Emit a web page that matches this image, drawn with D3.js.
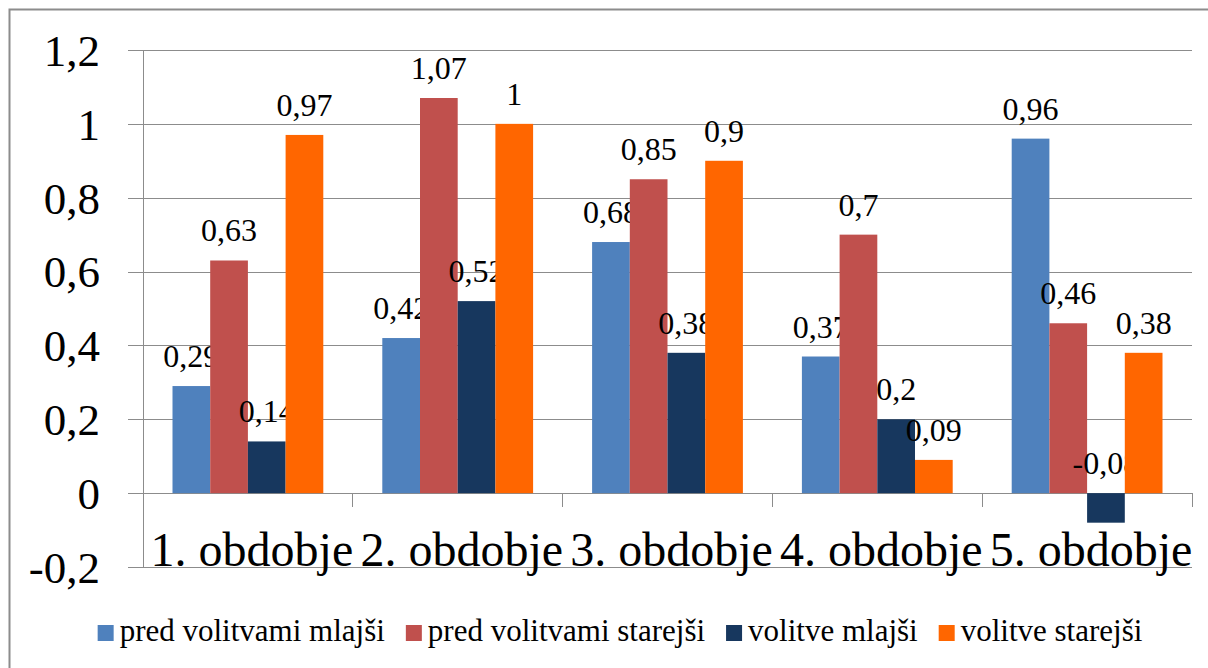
<!DOCTYPE html>
<html>
<head>
<meta charset="utf-8">
<script src="https://cdn.jsdelivr.net/npm/d3@7"></script>
<style>
  body { margin: 0; background: #fff; }
  svg text { font-family: "Liberation Serif", "DejaVu Serif", serif !important; fill: #000; }
</style>
</head>
<body>
<div id="chart"></div>
<script>
const categories = ["1. obdobje", "2. obdobje", "3. obdobje", "4. obdobje", "5. obdobje"];
const seriesNames = ["pred volitvami mlajši", "pred volitvami starejši", "volitve mlajši", "volitve starejši"];
const predMlajsi = [0.29, 0.42, 0.68, 0.37, 0.96];
const predStarejsi = [0.63, 1.07, 0.85, 0.7, 0.46];
const volitveMlajsi = [0.14, 0.52, 0.38, 0.2, -0.08];
const volitveStarejsi = [0.97, 1, 0.9, 0.09, 0.38];
const yTicks = [-0.2, 0, 0.2, 0.4, 0.6, 0.8, 1, 1.2];
const colors = ["#4F81BD", "#C0504D", "#17375E", "#FF6600"];

const seriesValues = [predMlajsi, predStarejsi, volitveMlajsi, volitveStarejsi];

const width = 1208, height = 668;
const plot = { left: 143, right: 1192, top: 50, bottom: 567 };
const serif = '"Liberation Serif", "Times New Roman", serif';

const locale = d3.formatLocale({ decimal: ",", thousands: ".", grouping: [3], currency: ["", ""], minus: "-" });
const fmt = locale.format("~g");

const svg = d3.select("#chart").append("svg")
  .attr("width", width)
  .attr("height", height)
  .style("font-family", serif);

// outer chart border (only top/left fall inside the picture)
svg.append("rect")
  .attr("x", 9.5).attr("y", 9.5)
  .attr("width", 1220).attr("height", 680)
  .attr("fill", "none")
  .attr("stroke", "#8c8c8c")
  .attr("stroke-width", 2);

const x0 = d3.scaleBand().domain(categories).range([plot.left, plot.right]);
const x1 = d3.scaleBand().domain(seriesNames).range([29.5, x0.bandwidth() - 29.5]);
const y = d3.scaleLinear().domain([-0.2, 1.2]).range([plot.bottom, plot.top]);

// gridlines + y labels
const yAxis = svg.append("g")
  .attr("transform", "translate(128,0)")
  .call(d3.axisLeft(y).tickValues(yTicks).tickFormat(fmt)
    .tickSize(-(plot.right - 128)).tickPadding(28))
  .attr("font-family", serif);
yAxis.select(".domain").remove();
yAxis.selectAll(".tick line")
  .attr("stroke", "#8c8c8c")
  .attr("shape-rendering", "crispEdges");
yAxis.selectAll(".tick text")
  .style("font-family", serif)
  .style("font-size", "45px")
  .attr("dy", "0.34em");

// y axis line
svg.append("line")
  .attr("x1", plot.left).attr("x2", plot.left)
  .attr("y1", plot.top).attr("y2", plot.bottom)
  .attr("stroke", "#8c8c8c")
  .attr("shape-rendering", "crispEdges");

// category tick marks on the zero line
const bounds = categories.map((c) => x0(c) + x0.bandwidth());
svg.selectAll(".cat-tick")
  .data(bounds)
  .enter()
  .append("line")
  .attr("class", "cat-tick")
  .attr("x1", (d) => d).attr("x2", (d) => d)
  .attr("y1", y(0)).attr("y2", y(0) + 14)
  .attr("stroke", "#8c8c8c")
  .attr("shape-rendering", "crispEdges");

// bars
const groups = svg.selectAll(".grp")
  .data(categories)
  .enter()
  .append("g")
  .attr("class", "grp")
  .attr("transform", (d) => `translate(${x0(d)},0)`);

const cells = groups.selectAll("g")
  .data((c, i) => seriesNames.map((s, j) => ({ s, j, v: seriesValues[j][i] })))
  .enter()
  .append("g");

cells.append("rect")
  .attr("x", (d) => x1(d.s))
  .attr("width", x1.bandwidth())
  .attr("y", (d) => y(Math.max(0, d.v)))
  .attr("height", (d) => Math.abs(y(d.v) - y(0)))
  .attr("fill", (d) => colors[d.j]);

cells.append("text")
  .attr("x", (d) => x1(d.s) + x1.bandwidth() / 2)
  .attr("y", (d) => y(Math.max(0, d.v)) - 19)
  .attr("text-anchor", "middle")
  .style("font-family", serif)
  .style("font-size", "32px")
  .text((d) => fmt(d.v));

// category labels
svg.selectAll(".cat-label")
  .data(categories)
  .enter()
  .append("text")
  .attr("class", "cat-label")
  .attr("x", (d) => x0(d) + x0.bandwidth() / 2 + 4)
  .attr("y", 566)
  .attr("text-anchor", "middle")
  .style("font-family", serif)
  .style("font-size", "48px")
  .text((d) => d);

// legend
const legend = svg.append("g");
const items = legend.selectAll("g")
  .data(seriesNames)
  .enter()
  .append("g");
items.append("rect")
  .attr("width", 16).attr("height", 16)
  .attr("y", 625)
  .attr("fill", (d, i) => colors[i]);
items.append("text")
  .attr("x", 22)
  .attr("y", 641)
  .style("font-family", serif)
  .style("font-size", "31px")
  .text((d) => d);

let cx = 0;
const offs = [];
items.each(function () {
  offs.push(cx);
  const w = d3.select(this).select("text").node().getComputedTextLength();
  cx += 22 + w + 21;
});
const total = cx - 21;
const startX = 620 - total / 2;
items.attr("transform", (d, i) => `translate(${startX + offs[i]},0)`);
</script>
</body>
</html>
